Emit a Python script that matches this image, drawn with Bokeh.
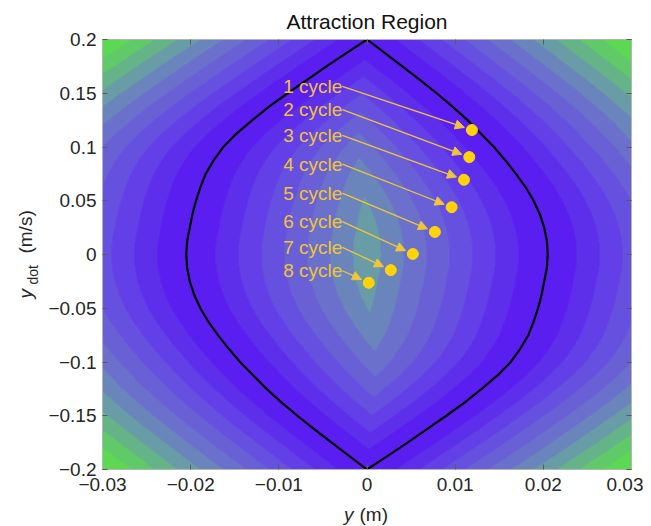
import numpy as np
from bokeh.plotting import figure
from bokeh.models import (Range1d, FixedTicker, LinearAxis, Label, Arrow, NormalHead,
                          ColumnDataSource, CustomJSTickFormatter, LinearColorMapper)
from bokeh.embed import file_html
from bokeh.resources import INLINE
from bokeh.core.properties import value

# ---------------- data ----------------
# boundary of the attraction region (y in m, ydot in m/s)
ydot_b = [-0.2, -0.1875, -0.175, -0.1625, -0.15, -0.1375, -0.125, -0.1125, -0.1,
          -0.0875, -0.075, -0.0625, -0.05, -0.0375, -0.025, -0.0125, 0.0,
          0.0125, 0.025, 0.0375, 0.05, 0.0625, 0.075, 0.0875, 0.1,
          0.1125, 0.125, 0.1375, 0.15, 0.1625, 0.175, 0.1875, 0.2]
left_b = [0.0, -0.0020, -0.0040, -0.0060, -0.0079, -0.0097, -0.0114, -0.0129, -0.0144,
          -0.0157, -0.0169, -0.0180, -0.0189, -0.0196, -0.0201, -0.0204, -0.0205,
          -0.0204, -0.0201, -0.0198, -0.0194, -0.0189, -0.0183, -0.0174, -0.0163,
          -0.0148, -0.0130, -0.0111, -0.0090, -0.0068, -0.0046, -0.0023, 0.0]
right_b = [0.0, 0.0023, 0.0046, 0.0068, 0.0090, 0.0111, 0.0130, 0.0148, 0.0163,
           0.0174, 0.0183, 0.0189, 0.0194, 0.0198, 0.0201, 0.0204, 0.0205,
           0.0204, 0.0201, 0.0196, 0.0189, 0.0180, 0.0169, 0.0157, 0.0144,
           0.0129, 0.0114, 0.0097, 0.0079, 0.0060, 0.0040, 0.0020, 0.0]

# cycle points
cycle_labels = ["1 cycle", "2 cycle", "3 cycle", "4 cycle", "5 cycle", "6 cycle", "7 cycle", "8 cycle"]
point_y = [0.0119, 0.0116, 0.0110, 0.0096, 0.0077, 0.0052, 0.0027, 0.0002]
point_ydot = [0.1158, 0.0906, 0.0695, 0.0440, 0.0210, 0.0005, -0.0145, -0.0263]
label_y = [-0.0028] * 8
label_ydot = [0.1565, 0.1347, 0.1108, 0.0841, 0.0571, 0.0306, 0.0067, -0.0151]

# filled-contour band edges (horizontal distance to the boundary, m) and colours
level_edges = [0.0, 0.0033, 0.0059, 0.0085, 0.0111, 0.0137, 0.0163, 0.0189,
               0.0215, 0.0241, 0.0267, 0.0293, 0.0305]
band_colors = ["#5a1ff0", "#5e2feb", "#623fe6", "#6650df", "#6960d6", "#6a70cb",
               "#6a84bc", "#689ca6", "#64b487", "#60ca68", "#5dd852", "#5cdc4a"]

x_ticks = [-0.03, -0.02, -0.01, 0.0, 0.01, 0.02, 0.03]
x_tick_labels = ["\u22120.03", "\u22120.02", "\u22120.01", "0", "0.01", "0.02", "0.03"]
y_ticks = [-0.2, -0.15, -0.1, -0.05, 0.0, 0.05, 0.1, 0.15, 0.2]
y_tick_labels = ["\u22120.2", "\u22120.15", "\u22120.1", "\u22120.05", "0", "0.05", "0.1", "0.15", "0.2"]

# ---------------- figure ----------------
FONT = "Liberation Sans"
W, H = 643, 526
ML, MR, MT, MB = 102, 12, 39, 57
XR = (-0.03, 0.03)
YR = (-0.2, 0.2)
TXT = "#262626"

p = figure(width=W, height=H, x_range=Range1d(*XR), y_range=Range1d(*YR),
           output_backend="svg", toolbar_location=None,
           min_border_left=ML, min_border_right=MR, min_border_top=MT, min_border_bottom=MB,
           title="Attraction Region")
p.grid.visible = False
p.outline_line_color = "#b4b4b4"
p.title.align = "center"
p.title.text_font = FONT
p.title.text_font_size = "21px"
p.title.text_font_style = "normal"
p.title.text_color = "#111111"
p.title.standoff = 13
p.title.offset = 0

fw = W - ML - MR
fh = H - MT - MB

# background field: horizontal distance to the boundary, banded like a filled contour
nx, ny = fw, fh
xs = XR[0] + (np.arange(nx) + 0.5) * (XR[1] - XR[0]) / nx
ys = YR[0] + (np.arange(ny) + 0.5) * (YR[1] - YR[0]) / ny
Lg = np.interp(ys, ydot_b, left_b)
Rg = np.interp(ys, ydot_b, right_b)
Z = np.minimum(np.abs(xs[None, :] - Lg[:, None]), np.abs(xs[None, :] - Rg[:, None]))
band = np.digitize(Z, level_edges[1:-1]).astype(np.float32)
cmap = LinearColorMapper(palette=band_colors, low=-0.5, high=len(band_colors) - 0.5)
p.image(image=[band], x=XR[0], y=YR[0], dw=XR[1] - XR[0], dh=YR[1] - YR[0], color_mapper=cmap)

# boundary curve
bx = list(left_b) + list(reversed(right_b))
by = list(ydot_b) + list(reversed(ydot_b))
p.line(bx, by, line_color="black", line_width=2.2)

# arrows from labels to points
sx = fw / (XR[1] - XR[0])
sy = fh / (YR[1] - YR[0])
gap = 8.0
xe, ye = [], []
for x0, y0, x1, y1 in zip(label_y, label_ydot, point_y, point_ydot):
    dx = (x1 - x0) * sx
    dy = (y1 - y0) * sy
    d = np.hypot(dx, dy)
    xe.append(x1 - dx / d * gap / sx)
    ye.append(y1 - dy / d * gap / sy)
arrow_src = ColumnDataSource(dict(xs=label_y, ys=label_ydot, xe=xe, ye=ye))
gold = "#efc53a"
p.add_layout(Arrow(source=arrow_src, x_start="xs", y_start="ys", x_end="xe", y_end="ye",
                   line_color=gold, line_width=1.3,
                   end=NormalHead(size=9, fill_color=gold, line_color=gold, line_width=1)))

p.scatter(point_y, point_ydot, size=11, fill_color="#ffd308", line_color="#ffd308")

p.text(x=label_y, y=label_ydot, text=cycle_labels, text_align="right", text_baseline="middle",
       text_font=value(FONT), text_font_size="19px", text_color="#f0c438")

# axes styling
for ax, ticks, labels in ((p.xaxis[0], x_ticks, x_tick_labels), (p.yaxis[0], y_ticks, y_tick_labels)):
    ax.ticker = FixedTicker(ticks=ticks)
    ax.major_label_overrides = {t: l for t, l in zip(ticks, labels)}
    ax.major_tick_in = 5
    ax.major_tick_out = 0
    ax.minor_tick_line_color = None
    ax.axis_line_color = "#b4b4b4"
    ax.major_tick_line_color = "#5a5a5a"
    ax.major_label_text_font = FONT
    ax.major_label_text_font_size = "19px"
    ax.major_label_text_color = TXT
p.xaxis.major_label_standoff = 8
p.yaxis.major_label_standoff = 6

blank = CustomJSTickFormatter(code="return ''")
top = LinearAxis(ticker=FixedTicker(ticks=x_ticks), formatter=blank, major_tick_in=5, major_tick_out=0,
                 minor_tick_line_color=None, axis_line_color="#b4b4b4", major_tick_line_color="#5a5a5a",
                 major_label_standoff=0)
right = LinearAxis(ticker=FixedTicker(ticks=y_ticks), formatter=blank, major_tick_in=5, major_tick_out=0,
                   minor_tick_line_color=None, axis_line_color="#b4b4b4", major_tick_line_color="#5a5a5a",
                   major_label_standoff=0)
p.add_layout(top, "above")
p.add_layout(right, "right")

# axis titles (mixed italic / subscript). Labels placed in side panels are not clipped;
# each one is put in the panel where the room it reserves is smallest.
def lab(side, **kw):
    base = dict(text_font=FONT, text_color=TXT, text_baseline="middle")
    base.update(kw)
    p.add_layout(Label(**base), side)

# x axis title: "y (m)"
lab("right", x=-0.00153, y=-0.2419, text="y", text_align="right", text_font_size="19px",
    text_font_style="italic")
lab("below", x=-0.00085, y=-0.2419, text="(m)", text_align="left", text_font_size="19px")
# y axis title: "y_dot (m/s)"
lab("below", x=-0.03873, y=-0.0409, text="y", angle=np.pi / 2, text_align="left", text_font_size="19px",
    text_font_style="italic")
lab("left", x=-0.03783, y=-0.0279, text="dot", angle=np.pi / 2, text_align="left", text_font_size="14px")
lab("left", x=-0.03873, y=0.0009, text="(m/s)", angle=np.pi / 2, text_align="left", text_font_size="19px")

open("out.html", "w").write(file_html(p, INLINE))
